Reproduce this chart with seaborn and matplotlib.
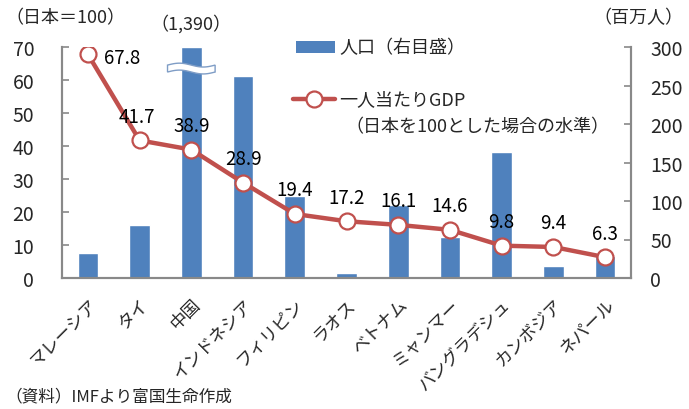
import numpy as np
import pandas as pd
import matplotlib
matplotlib.use("Agg")
import matplotlib.pyplot as plt
import seaborn as sns
from matplotlib.patches import Rectangle, Polygon
from matplotlib.lines import Line2D
from matplotlib.ticker import FixedLocator, NullFormatter

countries = ["マレーシア", "タイ", "中国", "インドネシア", "フィリピン", "ラオス",
             "ベトナム", "ミャンマー", "バングラデシュ", "カンボジア", "ネパール"]
gdp_per_capita = [67.8, 41.7, 38.9, 28.9, 19.4, 17.2, 16.1, 14.6, 9.8, 9.4, 6.3]
population = [32, 69, 1390, 262, 106, 7, 95, 53, 163, 16, 29]
left_ticks = [0, 10, 20, 30, 40, 50, 60, 70]
right_ticks = [0, 50, 100, 150, 200, 250, 300]

RIGHT_MAX = 300
BAR_COLOR = "#4F81BD"
LINE_COLOR = "#C0504D"
SPINE_COLOR = "#898989"

sns.set_theme(style="white")
plt.rcParams["font.family"] = ["Noto Sans CJK JP", "DejaVu Sans"]

df = pd.DataFrame({"country": countries, "gdp": gdp_per_capita,
                   "pop": population})
df["pop_shown"] = df["pop"].clip(upper=RIGHT_MAX)
df["pos"] = np.arange(len(df))

fig = plt.figure(figsize=(6.89, 4.10), dpi=100)
ax = fig.add_axes([62/689, 1-279/410, (631-62)/689, (279-48)/410])
ax2 = ax.twinx()

sns.barplot(data=df, x="pos", y="pop_shown", ax=ax2, color=BAR_COLOR,
            width=0.4, saturation=1, native_scale=True)
ax2.set_ylim(0, RIGHT_MAX)

sns.lineplot(data=df, x="pos", y="gdp", ax=ax, color=LINE_COLOR, lw=3.2,
             marker="o", markersize=11.5, markerfacecolor="white",
             markeredgecolor=LINE_COLOR, markeredgewidth=1.6)
ax.set_zorder(ax2.get_zorder() + 1)
ax.patch.set_visible(False)
ax.set_ylim(0, 70)
ax.set_xlim(-0.5, len(df) - 0.5)

# value labels
for i, v in enumerate(gdp_per_capita):
    if i == 0:
        off = (34, -3)
    elif i == 1:
        off = (-3, 24)
    else:
        off = (0, 24)
    ax.annotate(f"{v}", (i, v), xytext=off, textcoords="offset pixels",
                ha="center", va="center", fontsize=13.5, color="black")

# axes styling
for a in (ax, ax2):
    a.spines["top"].set_visible(False)
    for s in ("left", "right", "bottom"):
        a.spines[s].set_color(SPINE_COLOR)
        a.spines[s].set_linewidth(1.5)
    a.set_xlabel("")
    a.set_ylabel("")
    a.grid(False)

ax.yaxis.set_major_locator(FixedLocator(left_ticks))
ax.tick_params(axis="y", direction="in", length=5, width=1.2,
               color=SPINE_COLOR, labelsize=14, pad=20)
ax2.yaxis.set_major_locator(FixedLocator(right_ticks))
ax2.tick_params(axis="y", direction="in", length=5, width=1.2,
                color=SPINE_COLOR, labelsize=14, pad=14)

ax.set_xticks(np.arange(len(df)))
ax.set_xticklabels(countries, rotation=45, ha="right", va="top",
                   rotation_mode="anchor", fontsize=12.5)
ax.tick_params(axis="x", which="major", length=0, pad=12)
ax.xaxis.set_minor_locator(FixedLocator(np.arange(len(df) - 1) + 0.5))
ax.xaxis.set_minor_formatter(NullFormatter())
ax.tick_params(axis="x", which="minor", direction="in", length=5, width=1.2,
               color=SPINE_COLOR)
ax2.tick_params(axis="x", which="both", length=0, labelbottom=False)

# axis break on the clipped bar
ci = int(np.argmax(population))
xs = np.linspace(ci - 0.46, ci + 0.46, 40)
amp = 2.5
yc = 272
h = 4.5
wave = amp * np.sin((xs - xs[0]) / (xs[-1] - xs[0]) * 2 * np.pi)
pts = np.concatenate([np.column_stack([xs, yc + h + wave]),
                      np.column_stack([xs[::-1], (yc - h + wave)[::-1]])])
ax2.add_patch(Polygon(pts, closed=True, facecolor="white",
                      edgecolor="#7F9DC6", lw=1.0, zorder=5))
ax2.text(ci, 1.105, f"（{population[ci]:,}）", transform=ax2.get_xaxis_transform(),
         ha="center", va="center", fontsize=13)

# axis titles
fig.text(5/689, 1-18/410, "（日本＝100）", ha="left", va="center", fontsize=13)
fig.text(683/689, 1-18/410, "（百万人）", ha="right", va="center", fontsize=13)

# legend (drawn manually)
fig.patches.append(Rectangle((296/689, 1-54/410), 39/689, 12/410,
                             transform=fig.transFigure, facecolor=BAR_COLOR,
                             edgecolor="none"))
fig.text(339/689, 1-48/410, "人口（右目盛）", ha="left", va="center", fontsize=13)
fig.lines.append(Line2D([293/689, 335/689], [1-100/410, 1-100/410],
                        transform=fig.transFigure, color=LINE_COLOR, lw=3.2))
fig.lines.append(Line2D([314/689], [1-100/410], transform=fig.transFigure,
                        marker="o", markersize=11.5, markerfacecolor="white",
                        markeredgecolor=LINE_COLOR, markeredgewidth=1.6,
                        linestyle="none"))
fig.text(339/689, 1-100/410, "一人当たりGDP", ha="left", va="center", fontsize=13)
fig.text(345/689, 1-127/410, "（日本を100とした場合の水準）", ha="left",
         va="center", fontsize=13)

fig.text(5/689, 1-397/410, "（資料）IMFより富国生命作成", ha="left",
         va="center", fontsize=12)

fig.savefig("out.png", dpi=100)
